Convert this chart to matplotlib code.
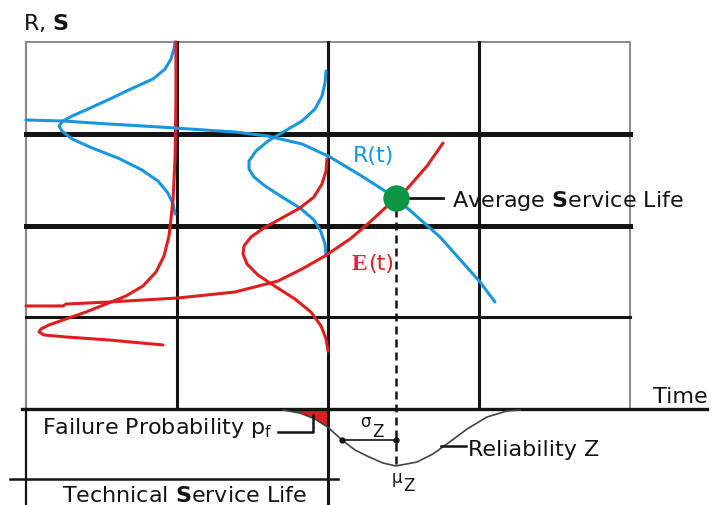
import numpy as np
import matplotlib
matplotlib.use("Agg")
import matplotlib.pyplot as plt

plt.rcParams["font.family"] = ["DejaVu Sans"]
plt.rcParams["mathtext.fontset"] = "dejavusans"

# Time runs along x (one grid cell = 1), R/S along y; the reliability Z hangs below y = 0
t_R = [0.0, 0.245, 0.550, 0.881, 1.384, 1.603, 1.828, 2.013, 2.212, 2.45, 2.742,
       3.007, 3.106]
R = [3.150, 3.139, 3.106, 3.074, 3.019, 2.975, 2.888, 2.747, 2.550, 2.300, 1.875,
     1.384, 1.166]

t_E = [0.0, 0.245, 0.265, 0.550, 1.007, 1.384, 1.669, 1.828, 1.980, 2.146, 2.278,
       2.45, 2.523, 2.656, 2.762]
E = [1.123, 1.123, 1.144, 1.166, 1.210, 1.275, 1.395, 1.526, 1.668, 1.853, 2.038,
     2.300, 2.398, 2.649, 2.899]

# resistance densities, drawn sideways against the time grid lines
r_pdf1_x = [0.987, 0.980, 0.960, 0.921, 0.841, 0.709, 0.556, 0.411, 0.305, 0.245,
            0.219, 0.238, 0.305, 0.437, 0.609, 0.768, 0.874, 0.940, 0.974, 0.987]
r_pdf1_y = [4.000, 3.924, 3.815, 3.706, 3.597, 3.499, 3.379, 3.270, 3.193, 3.139,
            3.084, 3.030, 2.943, 2.845, 2.736, 2.605, 2.485, 2.354, 2.234, 2.125]
r_pdf2_x = [1.987, 1.980, 1.960, 1.914, 1.828, 1.715, 1.603, 1.523, 1.477, 1.477,
            1.510, 1.583, 1.695, 1.815, 1.907, 1.954, 1.980, 1.987]
r_pdf2_y = [3.684, 3.553, 3.411, 3.270, 3.139, 3.030, 2.921, 2.812, 2.703, 2.616,
            2.529, 2.431, 2.311, 2.191, 2.060, 1.929, 1.798, 1.668]

# load-effect densities
e_pdf1_x = [0.993, 0.993, 0.987, 0.974, 0.960, 0.947, 0.914, 0.861, 0.775, 0.662,
            0.530, 0.397, 0.265, 0.152, 0.099, 0.086, 0.119, 0.265, 0.550, 0.907]
e_pdf1_y = [4.000, 3.379, 2.725, 2.289, 2.071, 1.886, 1.668, 1.493, 1.341, 1.232,
            1.144, 1.057, 0.981, 0.916, 0.872, 0.839, 0.807, 0.785, 0.752, 0.698]
e_pdf2_x = [1.993, 1.987, 1.960, 1.907, 1.815, 1.695, 1.576, 1.490, 1.444, 1.437,
            1.464, 1.536, 1.656, 1.781, 1.887, 1.954, 1.987, 2.000]
e_pdf2_y = [2.725, 2.594, 2.452, 2.311, 2.191, 2.082, 1.973, 1.875, 1.777, 1.689,
            1.580, 1.460, 1.330, 1.199, 1.057, 0.905, 0.763, 0.632]

# reliability Z = R - E over time
t_Z = [1.702, 1.815, 1.914, 2.0, 2.093, 2.179, 2.258, 2.364, 2.45, 2.589, 2.695,
       2.788, 2.921, 3.053, 3.185, 3.272]
Z = [-0.011, -0.044, -0.109, -0.200, -0.338, -0.447, -0.512, -0.589, -0.621, -0.578,
     -0.490, -0.381, -0.218, -0.087, -0.022, -0.011]

t_service = 2.45      # average service life (R = E)
s_service = 2.30
mu_Z = 2.45
sigma_Z = 0.357
t_technical = 2.0     # end of technical service life

blue = "#1a96dc"
red = "#de1f1f"
ink = "#141414"

fig = plt.figure(figsize=(7.11, 5.06), dpi=100)
ax = fig.add_axes([0, 0, 1, 1])
ax.set_xlim(-26 / 151, 685 / 151)
ax.set_ylim(-96 / 91.75, 410 / 91.75)
ax.axis("off")

# grid
grey = "#8a8a8a"
ax.plot([0, 4], [4, 4], color=grey, lw=1.4)
ax.plot([0, 0], [0, 4], color=grey, lw=1.6)
ax.plot([4, 4], [0, 4], color=grey, lw=1.4)
ax.plot([0, 0], [-1.1, 0], color=ink, lw=1.6)
for x in [1, 3]:
    ax.plot([x, x], [0, 4], color=ink, lw=2.2)
ax.plot([t_technical, t_technical], [-1.1, 4], color=ink, lw=2.2)
for y in [2, 3]:
    ax.plot([0, 4], [y, y], color=ink, lw=3.6)
ax.plot([0, 4], [1, 1], color=ink, lw=2.2)
ax.plot([-0.026, 4.51], [0, 0], color=ink, lw=2.4)
ax.plot([-0.106, 2.066], [-0.763, -0.763], color=ink, lw=1.8)

# densities and curves
style = dict(lw=2.2, solid_capstyle="round", solid_joinstyle="round")
for xs, ys, c in [(r_pdf1_x, r_pdf1_y, blue), (r_pdf2_x, r_pdf2_y, blue),
                  (e_pdf1_x, e_pdf1_y, red), (e_pdf2_x, e_pdf2_y, red)]:
    ax.plot(xs, ys, color=c, **style)
ax.plot(t_R, R, color=blue, **style)
ax.plot(t_E, E, color=red, **style)

# reliability curve and failure probability
tz = np.array(t_Z)
zz = np.array(Z)
ax.plot(t_Z, Z, color="#444444", lw=1.2)
ax.fill_between(tz, zz, 0, where=tz <= t_technical, color=red, lw=0)

ax.plot([t_service, t_service], [s_service - 0.12, Z[8]], color=ink, lw=1.8,
        linestyle=(0, (3.2, 2.0)))
ax.plot([mu_Z - sigma_Z, mu_Z], [-0.338, -0.338], color=ink, lw=1.2,
        marker="o", ms=3.5)
ax.plot(t_service, s_service, "o", ms=19, color="#0e9445", mec="none", zorder=5)

# leaders
ax.plot([2.53, 2.76], [s_service, s_service], color=ink, lw=2)
ax.plot([1.669, 1.901, 1.901], [-0.251, -0.251, -0.065], color=ink, lw=1.8)
ax.plot([2.748, 2.914], [-0.403, -0.403], color=ink, lw=1.8)

fs = 16
ax.text(-0.02, 4.142, r"R, $\mathbf{S}$", fontsize=fs, color=ink, va="baseline")
ax.text(4.517, 0.076, "Time", fontsize=fs, color=ink, ha="right", va="baseline")
ax.text(2.166, 2.703, "R(t)", fontsize=fs, color=blue, va="baseline")
e_lab = ax.text(2.159, 1.526, "E", fontsize=fs + 1, color="#e8203c", va="baseline",
                family="Liberation Serif", weight="bold")
ax.annotate("(t)", xy=(1, 1.526), xycoords=(e_lab, "data"), fontsize=fs,
            color=red, va="baseline")
ax.text(2.821, 2.213, r"Average $\mathbf{S}$ervice Life", fontsize=fs, color=ink,
        va="baseline")
ax.text(0.106, -0.262, r"Failure Probability p$_\mathregular{f}$", fontsize=fs,
        color=ink, va="baseline")
ax.text(2.212, -0.185, "σ", fontsize=12, color=ink, va="baseline")
ax.text(2.291, -0.294, "Z", fontsize=12, color=ink, va="baseline")
ax.text(2.927, -0.501, "Reliability Z", fontsize=fs, color=ink, va="baseline")
ax.text(2.424, -0.80, "μ", fontsize=12, color=ink, va="baseline")
ax.text(2.497, -0.883, "Z", fontsize=12, color=ink, va="baseline")
ax.text(0.238, -1.00, r"Technical $\mathbf{S}$ervice Life", fontsize=fs,
        color=ink, va="baseline")

fig.savefig("out.png", dpi=100)
